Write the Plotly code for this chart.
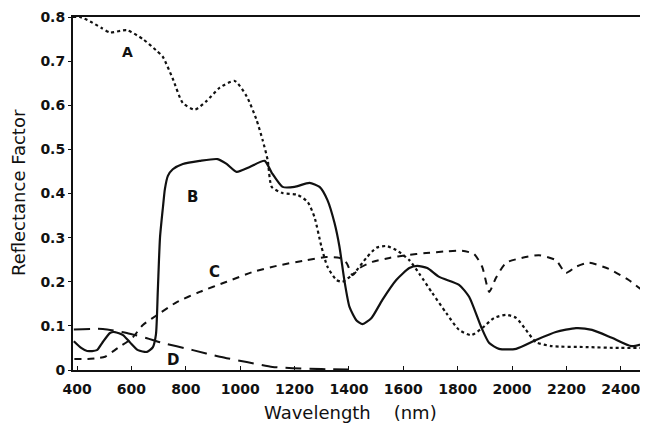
import plotly.graph_objects as go

# Curve A (dotted)
a_nm = [385, 410, 448, 490, 521, 583, 642, 690, 715, 752, 789, 833, 877, 925, 980, 1024, 1060, 1083,
        1101, 1116, 1156, 1211, 1248, 1273, 1299, 1321, 1354, 1376, 1420, 1464, 1501, 1538, 1574,
        1622, 1659, 1706, 1758, 1805, 1850, 1890, 1934, 1978, 2015, 2051, 2088, 2147, 2272, 2393, 2500]
a_val = [0.80, 0.80, 0.79, 0.775, 0.765, 0.77, 0.75, 0.725, 0.71, 0.66, 0.605, 0.59, 0.61, 0.64, 0.655,
         0.62, 0.567, 0.52, 0.476, 0.415, 0.401, 0.397, 0.381, 0.347, 0.279, 0.234, 0.204, 0.20, 0.22,
         0.254, 0.277, 0.281, 0.272, 0.249, 0.218, 0.175, 0.129, 0.091, 0.079, 0.095, 0.118, 0.125,
         0.118, 0.091, 0.063, 0.054, 0.052, 0.050, 0.050]

# Curve B (solid)
b_nm = [388, 415, 437, 473, 492, 521, 539, 569, 594, 624, 657, 679, 690, 697, 705, 716, 723, 734, 752,
        789, 851, 917, 950, 987, 1035, 1090, 1116, 1156, 1200, 1255, 1292, 1321, 1347, 1365, 1383,
        1402, 1427, 1450, 1483, 1523, 1574, 1622, 1651, 1688, 1732, 1805, 1842, 1886, 1916, 1952,
        2015, 2088, 2161, 2235, 2294, 2367, 2440, 2500]
b_val = [0.065, 0.05, 0.043, 0.045, 0.061, 0.084, 0.086, 0.079, 0.063, 0.045, 0.041, 0.052, 0.08,
         0.18, 0.30, 0.37, 0.41, 0.44, 0.455, 0.467, 0.474, 0.478, 0.467, 0.449, 0.46, 0.474, 0.447,
         0.415, 0.415, 0.424, 0.415, 0.385, 0.333, 0.28, 0.204, 0.143, 0.113, 0.104, 0.118, 0.159,
         0.204, 0.231, 0.236, 0.231, 0.211, 0.193, 0.166, 0.098, 0.061, 0.048, 0.048, 0.068, 0.086,
         0.095, 0.091, 0.073, 0.054, 0.063]

# Curve C (dashed)
c_nm = [390, 440, 477, 503, 550, 602, 642, 705, 767, 851, 950, 1046, 1134, 1244, 1317, 1365, 1391,
        1413, 1439, 1486, 1549, 1611, 1684, 1760, 1816, 1860, 1890, 1916, 1941, 1978, 2051, 2099,
        2161, 2198, 2235, 2283, 2356, 2429, 2500]
c_val = [0.025, 0.025, 0.027, 0.03, 0.05, 0.072, 0.102, 0.129, 0.154, 0.177, 0.20, 0.222, 0.236,
         0.249, 0.256, 0.254, 0.243, 0.215, 0.231, 0.245, 0.254, 0.26, 0.265, 0.269, 0.27, 0.263,
         0.234, 0.177, 0.209, 0.243, 0.256, 0.26, 0.249, 0.22, 0.234, 0.243, 0.229, 0.204, 0.17]

# Curve D (long dash)
d_nm = [388, 495, 583, 657, 705, 826, 925, 1024, 1119, 1193, 1300, 1400]
d_val = [0.092, 0.093, 0.084, 0.072, 0.063, 0.045, 0.03, 0.018, 0.007, 0.004, 0.002, 0.001]

x_ticks = [400, 600, 800, 1000, 1200, 1400, 1600, 1800, 2000, 2200, 2400]
y_ticks = [0, 0.1, 0.2, 0.3, 0.4, 0.5, 0.6, 0.7, 0.8]
y_tick_text = ["0", "0.1", "0.2", "0.3", "0.4", "0.5", "0.6", "0.7", "0.8"]

labels = ["A", "B", "C", "D"]
label_x = [584, 823, 904, 753]
label_y = [0.72, 0.392, 0.222, 0.023]
label_size = [14, 15, 15, 15]

ink = "#111111"
fig = go.Figure()
fig.add_trace(go.Scatter(x=a_nm, y=a_val, mode="lines", line=dict(color=ink, width=2.2, dash="dot", shape="spline", smoothing=0.6)))
fig.add_trace(go.Scatter(x=b_nm, y=b_val, mode="lines", line=dict(color=ink, width=2.2, shape="spline", smoothing=0.6)))
fig.add_trace(go.Scatter(x=c_nm, y=c_val, mode="lines", line=dict(color=ink, width=2, dash="7px,6px", shape="spline", smoothing=0.6)))
fig.add_trace(go.Scatter(x=d_nm, y=d_val, mode="lines", line=dict(color=ink, width=2, dash="16px,8px", shape="spline", smoothing=0.6)))

for t, x, y, s in zip(labels, label_x, label_y, label_size):
    fig.add_annotation(x=x, y=y, text=f"<b>{t}</b>", showarrow=False,
                       font=dict(family="DejaVu Sans", size=s, color=ink))

fig.add_annotation(xref="paper", yref="paper", x=-0.0957, xanchor="center", y=0.504, yanchor="middle",
                   text="Reflectance Factor", textangle=-90, showarrow=False,
                   font=dict(family="DejaVu Sans", size=18, color=ink))
fig.add_annotation(xref="paper", yref="paper", x=0.482, xanchor="center", y=-0.085, yanchor="top",
                   text="Wavelength&nbsp;&nbsp;&nbsp;&nbsp;(nm)",
                   showarrow=False, font=dict(family="DejaVu Sans", size=18, color=ink))

tick_font = dict(family="DejaVu Sans", size=14, color=ink, weight="bold")

fig.update_layout(
    width=640, height=439,
    margin=dict(l=65, r=0, t=9, b=77),
    paper_bgcolor="white", plot_bgcolor="white",
    showlegend=False,
    xaxis=dict(range=[385, 2500], tickvals=x_ticks, showline=True, linecolor=ink, linewidth=2,
               mirror=True, showgrid=False, zeroline=False, ticks="inside", ticklen=4, tickcolor=ink,
               ticklabelstandoff=5, tickfont=tick_font),
    yaxis=dict(range=[0, 0.8], tickvals=y_ticks, ticktext=y_tick_text, showline=True, linecolor=ink,
               linewidth=2, showgrid=False, zeroline=False, ticks="outside", ticklen=3, tickcolor=ink,
               tickfont=tick_font),
)

fig.write_html("out.html")
